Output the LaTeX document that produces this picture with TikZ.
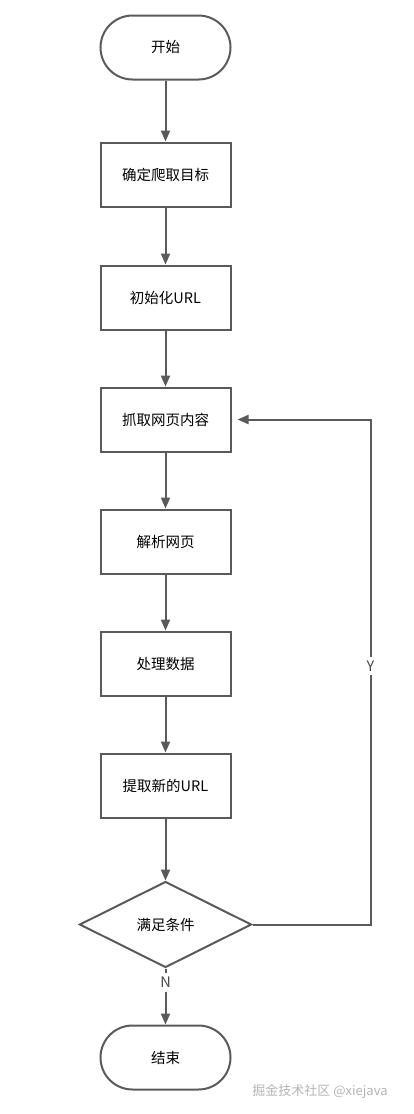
\documentclass[tikz,border=0pt]{standalone}
\usepackage{fontspec}
\setmainfont{Noto Sans CJK SC}
\usepackage{xcolor}
\usepackage{tikz}
\usetikzlibrary{shapes,arrows,positioning,calc,arrows.meta}
\definecolor{linegray}{HTML}{5A5A5A}
\definecolor{markgray}{HTML}{B4B4B4}

\begin{document}
\begin{tikzpicture}[flow block/.style={draw=linegray, line width=2pt, rectangle, minimum width=130pt, minimum height=64pt, align=center, font=\fontsize{14.5}{17}\selectfont},
    flow term/.style={flow block, rounded corners=32pt},
    flow cond/.style={flow block, diamond, minimum width=172pt, minimum height=86pt, inner sep=0pt},
    flow line/.style={draw=linegray, line width=2pt, -{Triangle[length=11pt,width=9pt]}},
    flow label/.style={fill=white, inner sep=4pt, anchor=center, font=\fontsize{14.5}{17}\selectfont, text=linegray!80!black},
    node distance=122pt]
    \useasboundingbox (0,0) rectangle (413pt,-1114pt);

    \node[flow term] (start) at (165.5pt,-47.5pt) {开始};
    \node[flow block, below of=start, node distance=127pt] (target) {确定爬取目标};
    \node[flow block, below of=target, node distance=123pt] (init) {初始化URL};
    \node[flow block, below of=init] (fetch) {抓取网页内容};
    \node[flow block, below of=fetch] (parse) {解析网页};
    \node[flow block, below of=parse] (proc) {处理数据};
    \node[flow block, below of=proc] (extract) {提取新的URL};
    \node[flow cond, below of=extract, node distance=139pt] (cond) {满足条件};
    \node[flow term, below of=cond, node distance=133pt] (stop) {结束};
    \coordinate[right=139pt of fetch.east] (loop);

    \draw[flow line] (start) -- (target);
    \draw[flow line] (target) -- (init);
    \draw[flow line] (init) -- (fetch);
    \draw[flow line] (fetch) -- (parse);
    \draw[flow line] (parse) -- (proc);
    \draw[flow line] (proc) -- (extract);
    \draw[flow line] (extract) -- (cond);
    \draw[flow line] (cond) -- node[flow label, pos=0.25] {N} (stop);

    \draw[flow line, shorten >=6pt] (cond.east) -| node[flow label, pos=0.756] {Y} (loop) -- (fetch.east); % loop back

    \node[text=markgray, font=\fontsize{13}{15}\selectfont] (mark) at (320pt,-1092pt) {掘金技术社区 @xiejava};
\end{tikzpicture}
\end{document}
